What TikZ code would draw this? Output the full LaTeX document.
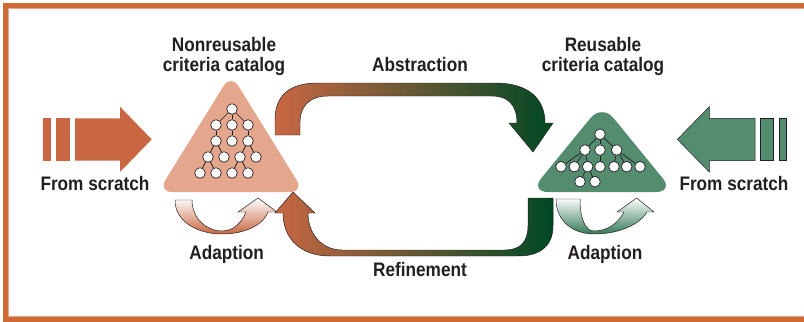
\documentclass[tikz,border=0pt]{standalone}
\usepackage{fontspec}
\setmainfont{Liberation Sans}[FakeStretch=0.88]
\definecolor{frameorange}{RGB}{208,106,52}
\definecolor{rustorange}{RGB}{201,103,67}
\definecolor{peach}{RGB}{228,166,140}
\definecolor{sagegreen}{RGB}{84,140,112}
\definecolor{mossgreen}{RGB}{52,122,88}
\definecolor{deepgreen}{RGB}{0,72,36}
\definecolor{inkgray}{RGB}{35,31,32}

\begin{document}
\begin{tikzpicture}[x=0.025cm, y=-0.025cm,
    lbl/.style={font=\fontsize{13.9}{14.2}\selectfont\bfseries, text=inkgray, inner sep=0pt, anchor=base},
    tnode/.style={circle, draw=inkgray, fill=white, line width=0.5pt, minimum size=0.265cm, inner sep=0pt},
    tedge/.style={draw=inkgray, line width=0.5pt},
    rim/.style={draw=inkgray, line width=0.35pt}]
  \useasboundingbox (0,0) rectangle (804,322);

  % Frame
  \draw[frameorange, line width=0.125cm] (5.8,5.8) rectangle (812,319.5);
  \draw[peach, line width=0.025cm] (8.9,8.9) rectangle (812,316.4);

  % Nonreusable catalog (left)
  \fill[peach, rounded corners=0.35cm] (231,74) -- (304,192) -- (158,192) -- cycle;
  \node[lbl] (nonreuse) at (224,51.7) {Nonreusable};
  \node[lbl] (nonreuse2) at (224,71.7) {criteria catalog};

  \node[tnode] (n1) at (232,109) {};
  \node[tnode] (n21) at (216,125) {};
  \node[tnode] (n22) at (232,125) {};
  \node[tnode] (n23) at (248,125) {};
  \node[tnode] (n31) at (216,141) {};
  \node[tnode] (n32) at (232,141) {};
  \node[tnode] (n33) at (248,141) {};
  \node[tnode] (n41) at (208,157) {};
  \node[tnode] (n42) at (224,157) {};
  \node[tnode] (n43) at (240,157) {};
  \node[tnode] (n44) at (256,157) {};
  \node[tnode] (n51) at (200,173) {};
  \node[tnode] (n52) at (216,173) {};
  \node[tnode] (n53) at (232,173) {};
  \node[tnode] (n54) at (248,173) {};
  \foreach \p/\c in {n1/n21, n1/n22, n1/n23, n21/n31, n22/n32, n23/n33,
                     n31/n41, n31/n42, n33/n43, n33/n44,
                     n41/n51, n41/n52, n43/n53, n43/n54}
    \draw[tedge] (\p) -- (\c);

  % Reusable catalog (right)
  \fill[sagegreen, rounded corners=0.45cm] (602,104) -- (674,192) -- (530,192) -- cycle;
  \node[lbl] (reuse) at (603,51.7) {Reusable};
  \node[lbl] (reuse2) at (603,71.7) {criteria catalog};

  \node[tnode] (r1) at (600,134.3) {};
  \node[tnode] (r21) at (585,150) {};
  \node[tnode] (r22) at (600,150) {};
  \node[tnode] (r23) at (616.7,150) {};
  \node[tnode] (r31) at (561,166.7) {};
  \node[tnode] (r32) at (574.3,166.7) {};
  \node[tnode] (r33) at (587.7,166.7) {};
  \node[tnode] (r34) at (600,166.7) {};
  \node[tnode] (r35) at (614,166.7) {};
  \node[tnode] (r36) at (626.7,166.7) {};
  \node[tnode] (r37) at (640,166.7) {};
  \node[tnode] (r41) at (580,181.7) {};
  \node[tnode] (r42) at (595,181.7) {};
  \foreach \p/\c in {r1/r21, r1/r22, r1/r23, r21/r31, r21/r32, r21/r33,
                     r22/r34, r23/r35, r23/r36, r23/r37, r33/r41, r33/r42}
    \draw[tedge] (\p) -- (\c);

  % From scratch arrows
  \fill[rustorange] (43.3,118.3) rectangle (50.7,160.7);
  \fill[rustorange] (56,118.3) rectangle (70,160.7);
  \fill[rustorange] (75,118.3) -- (120,118.3) -- (120,106.7) -- (151.7,139.4)
    -- (120,172) -- (120,160.7) -- (75,160.7) -- cycle;
  \node[lbl] (scratchl) at (95,190) {From scratch};

  \filldraw[fill=sagegreen, rim] (755,118.3) -- (709.3,118.3) -- (709.3,106.7) -- (677.3,139.4)
    -- (709.3,172) -- (709.3,160.7) -- (755,160.7) -- cycle;
  \filldraw[fill=sagegreen, rim] (760,118.3) rectangle (773.3,160.7);
  \filldraw[fill=sagegreen, rim] (779,118.3) rectangle (786.7,160.7);
  \node[lbl] (scratchr) at (734,190) {From scratch};

  % Abstraction
  \shadedraw[left color=rustorange, right color=deepgreen, rim]
    (275,135) -- (275,120) .. controls (275,95) and (290,83) .. (318,83) -- (495,83)
    .. controls (530,83) and (545,100) .. (545,123) -- (553,123) -- (533,152) -- (509,123)
    -- (517,123) .. controls (517,105) and (508,96) .. (492,96) -- (328,96)
    .. controls (308,96) and (300,108) .. (300,122) -- (300,135) -- cycle;
  \node[lbl] (abstr) at (420,71) {Abstraction};

  % Refinement
  \shadedraw[left color=rustorange, right color=deepgreen, rim]
    (553,198) -- (553,226) .. controls (553,246) and (540,256) .. (518,256) -- (330,256)
    .. controls (300,256) and (283,238) .. (283,213) -- (275,213) -- (293,192) -- (315,213)
    -- (308,213) .. controls (308,234) and (322,250) .. (342,250) -- (505,250)
    .. controls (520,250) and (528,242) .. (528,226) -- (528,198) -- cycle;
  \node[lbl] (refine) at (420,276) {Refinement};

  % Adaption loops
  \shadedraw[top color=white, bottom color=rustorange, rim]
    (175,200) .. controls (175,222) and (198,234) .. (222,234)
    .. controls (246,234) and (264,224) .. (268,212) -- (277,212) -- (258,198) -- (238,212)
    -- (246,212) .. controls (242,222) and (234,231) .. (222,231)
    .. controls (206,231) and (192,218) .. (192,200) -- cycle;
  \node[lbl] (adaptl) at (226.7,259) {Adaption};

  \shadedraw[top color=white, bottom color=mossgreen, rim]
    (556,199) .. controls (556,222) and (574,234) .. (594,234)
    .. controls (620,234) and (640,224) .. (647,212) -- (654,212) -- (636.7,198) -- (617,212)
    -- (624,212) .. controls (618,223) and (608,231) .. (594,231)
    .. controls (585,231) and (580,218) .. (580,199) -- cycle;
  \node[lbl] (adaptr) at (605,259) {Adaption};
\end{tikzpicture}
\end{document}
